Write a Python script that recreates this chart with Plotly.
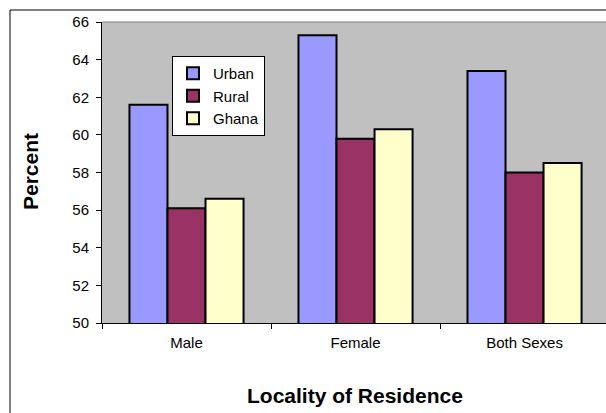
import plotly.graph_objects as go

categories = ["Male", "Female", "Both Sexes"]
urban = [61.6, 65.3, 63.4]
rural = [56.1, 59.8, 58.0]
ghana = [56.6, 60.3, 58.5]
series_names = ["Urban", "Rural", "Ghana"]
series_colors = ["#9999FF", "#993366", "#FFFFCC"]
y_ticks = [50, 52, 54, 56, 58, 60, 62, 64, 66]

FONT = "Liberation Sans, Arial, sans-serif"

W, H = 606, 413
L, R, T, B = 102, 0, 22, 413 - 323
pw, ph = W - L - R, H - T - B

def px_x(p):
    return (p - L) / pw

def px_y(p):
    return (H - B - p) / ph

fig = go.Figure()
for name, vals, col in zip(series_names, [urban, rural, ghana], series_colors):
    fig.add_trace(go.Bar(
        x=categories, y=vals, name=name, legendgroup=name,
        marker=dict(color=col, line=dict(color="black", width=2)),
    ))

fig.update_layout(
    width=W, height=H,
    margin=dict(l=L, r=R, t=T, b=B),
    paper_bgcolor="white",
    plot_bgcolor="#C0C0C0",
    barmode="group",
    bargap=0.325,
    bargroupgap=0,
    font=dict(family=FONT, size=15, color="black"),
    showlegend=True,
    legend=dict(
        x=px_x(172), y=px_y(56), xanchor="left", yanchor="top",
        bgcolor="white", bordercolor="black", borderwidth=1,
        font=dict(family=FONT, size=15, color="black"),
        tracegroupgap=6, traceorder="normal",
    ),
    xaxis=dict(
        range=[-0.5, 2.482],
        showline=True, linecolor="black", linewidth=1,
        ticks="outside", ticklen=5, tickcolor="black",
        tickson="boundaries",
        showgrid=False, zeroline=False,
        tickfont=dict(family=FONT, size=15),
        ticklabelstandoff=6,
    ),
    yaxis=dict(
        range=[50, 66],
        tickvals=y_ticks,
        showline=True, linecolor="black", linewidth=1,
        ticks="outside", ticklen=5, tickcolor="black",
        showgrid=False, zeroline=False,
        tickfont=dict(family=FONT, size=15),
        ticklabelstandoff=4,
    ),
    shapes=[
        dict(type="rect", xref="paper", yref="paper",
             x0=px_x(10), x1=1.05, y0=px_y(10), y1=-0.5,
             line=dict(color="black", width=1), fillcolor="rgba(0,0,0,0)", layer="below"),
        dict(type="line", xref="paper", yref="paper",
             x0=0, x1=1, y0=1, y1=1,
             line=dict(color="#808080", width=1)),
    ],
    annotations=[
        dict(text="<b>Percent</b>", xref="paper", yref="paper",
             x=px_x(30), y=px_y(172), textangle=-90, showarrow=False,
             font=dict(family=FONT, size=21, color="black"),
             xanchor="center", yanchor="middle"),
        dict(text="<b>Locality of Residence</b>", xref="paper", yref="paper",
             x=px_x(355), y=px_y(395), showarrow=False,
             font=dict(family=FONT, size=21, color="black"),
             xanchor="center", yanchor="middle"),
    ],
)

fig.write_html(
    "out.html",
    config={"displayModeBar": False},
    post_script="document.body.style.margin='0';document.body.style.overflow='hidden';",
)
